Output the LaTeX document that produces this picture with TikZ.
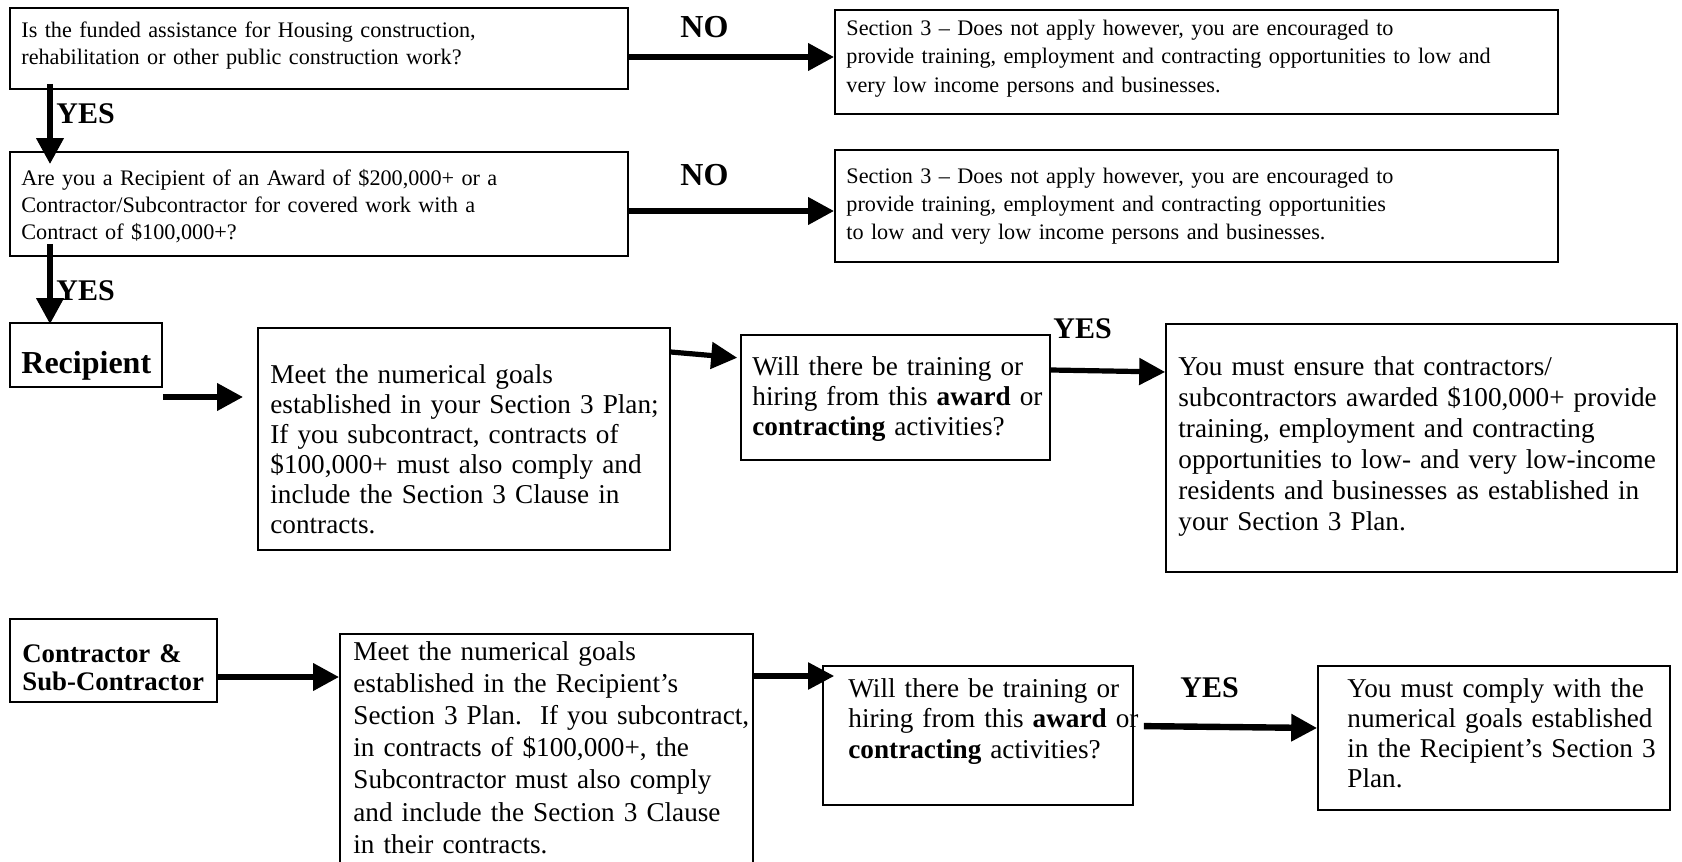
\documentclass[tikz,border=0pt]{standalone}
\usepackage{fontspec}
\setmainfont{Liberation Serif}
\usetikzlibrary{arrows.meta, fit}
\tikzset{
  box/.style={draw, line width=0.8pt, inner sep=0pt},
  txt/.style={anchor=base west, inner sep=0pt, align=left, text width=360pt},
  small/.style={txt, font=\fontsize{11.1}{13.5}\selectfont},
  big/.style={txt, font=\fontsize{13.6}{15}\selectfont},
  lbl/.style={anchor=base west, inner sep=0pt, font=\bfseries\fontsize{15}{15}\selectfont},
  arr/.style={line width=3.2pt, -{Triangle[length=13pt, width=13pt]}},
}
\begin{document}
\begin{tikzpicture}[x=0.5pt, y=-0.5pt]
\useasboundingbox (0,0) rectangle (1682,862);
% first two questions and the "does not apply" boxes
\node[box, fit={(10,8) (628,89)}] (q1) {};
\node[box, fit={(10,152) (628,256)}] (q2) {};
\node[box, fit={(835,10) (1558,114)}] (na1) {};
\node[box, fit={(835,150) (1558,262)}] (na2) {};
\node[small] (q1t) at (21,37) {Is the funded assistance for Housing construction,\\rehabilitation or other public construction work?};
\node[small] (q2t) at (21,185) {Are you a Recipient of an Award of \$200,000+ or a\\Contractor/Subcontractor for covered work with a\\Contract of \$100,000+?};
\node[small, font=\fontsize{11.1}{14.25}\selectfont] (na1t) at (846,35) {Section 3 – Does not apply however, you are encouraged to\\provide training, employment and contracting opportunities to low and\\very low income persons and businesses.};
\node[small, font=\fontsize{11.1}{14}\selectfont] (na2t) at (846,183) {Section 3 – Does not apply however, you are encouraged to\\provide training, employment and contracting opportunities\\to low and very low income persons and businesses.};
\node[lbl, font=\bfseries\fontsize{16}{16}\selectfont] (no1) at (680,37) {NO};
\node[lbl, font=\bfseries\fontsize{16}{16}\selectfont] (no2) at (680,185) {NO};
\node[lbl] (yes1) at (56,123) {YES};
\node[lbl] (yes2) at (56,300) {YES};
% recipient row
\node[box, fit={(10,323) (162,387)}] (rec) {};
\node[txt, font=\bfseries\fontsize{16}{16}\selectfont] (rect) at (21,373) {Recipient};
\node[box, fit={(258,328) (670,550)}] (m1) {};
\node[big] (m1t) at (270,383) {Meet the numerical goals\\established in your Section 3 Plan;\\If you subcontract, contracts of\\\$100,000+ must also comply and\\include the Section 3 Clause in\\contracts.};
\node[box, fit={(741,335) (1050,460)}] (w1) {};
\node[big] (w1t) at (752,375) {Will there be training or\\hiring from this \textbf{award} or\\\textbf{contracting} activities?};
\node[box, fit={(1166,324) (1677,572)}] (ens) {};
\node[big, font=\fontsize{13.6}{15.5}\selectfont] (enst) at (1178,375) {You must ensure that contractors/\\subcontractors awarded \$100,000+ provide\\training, employment and contracting\\opportunities to low- and very low-income\\residents and businesses as established in\\your Section 3 Plan.};
\node[lbl] (yes3) at (1053,338) {YES};
% contractor row
\node[box, fit={(10,619) (217,702)}] (con) {};
\node[txt, font=\bfseries\fontsize{13.4}{14}\selectfont] (cont) at (22,662) {Contractor \&\\Sub-Contractor};
\node[box, fit={(340,634) (753,875)}] (m2) {};
\node[big, font=\fontsize{13.6}{16.1}\selectfont] (m2t) at (353,660) {Meet the numerical goals\\established in the Recipient’s\\Section 3 Plan.\ \ If you subcontract,\\in contracts of \$100,000+, the\\Subcontractor must also comply\\and include the Section 3 Clause\\in their contracts.};
\node[box, fit={(823,666) (1133,805)}] (w2) {};
\node[big, font=\fontsize{13.6}{15.25}\selectfont] (w2t) at (848,697) {Will there be training or\\hiring from this \textbf{award} or\\\textbf{contracting} activities?};
\node[box, fit={(1318,666) (1670,810)}] (cmp) {};
\node[big] (cmpt) at (1347,697) {You must comply with the\\numerical goals established\\in the Recipient’s Section 3\\Plan.};
\node[lbl] (yes4) at (1180,697) {YES};
% arrows
\coordinate (col) at (50,0);
\draw[arr] (q1.east |- 0,57) -- (na1.west |- 0,57);
\draw[arr] (q2.east |- 0,211) -- (na2.west |- 0,211);
\draw[arr, shorten <=-3pt, shorten >=-6.5pt] (q1.south -| col) -- (q2.north -| col);
\draw[arr, shorten <=-6.5pt, shorten >=-1pt] (q2.south -| col) -- (rec.north -| col);
\draw[arr, shorten >=7pt] (rec.east |- 0,397) -- (m1.west |- 0,397);
\draw[arr, line width=2.6pt, shorten >=1.5pt] (m1.east |- 0,352) -- (w1.west |- 0,358);
\draw[arr, line width=2.6pt] (w1.east |- 0,370) -- (ens.west |- 0,372);
\draw[arr] (con.east |- 0,677) -- (m2.west |- 0,677);
\draw[arr, line width=2.6pt, shorten >=-6pt] (m2.east |- 0,676) -- (w2.west |- 0,676);
\draw[arr, shorten <=5pt] (w2.east |- 0,726) -- (cmp.west |- 0,728);
\end{tikzpicture}
\end{document}
